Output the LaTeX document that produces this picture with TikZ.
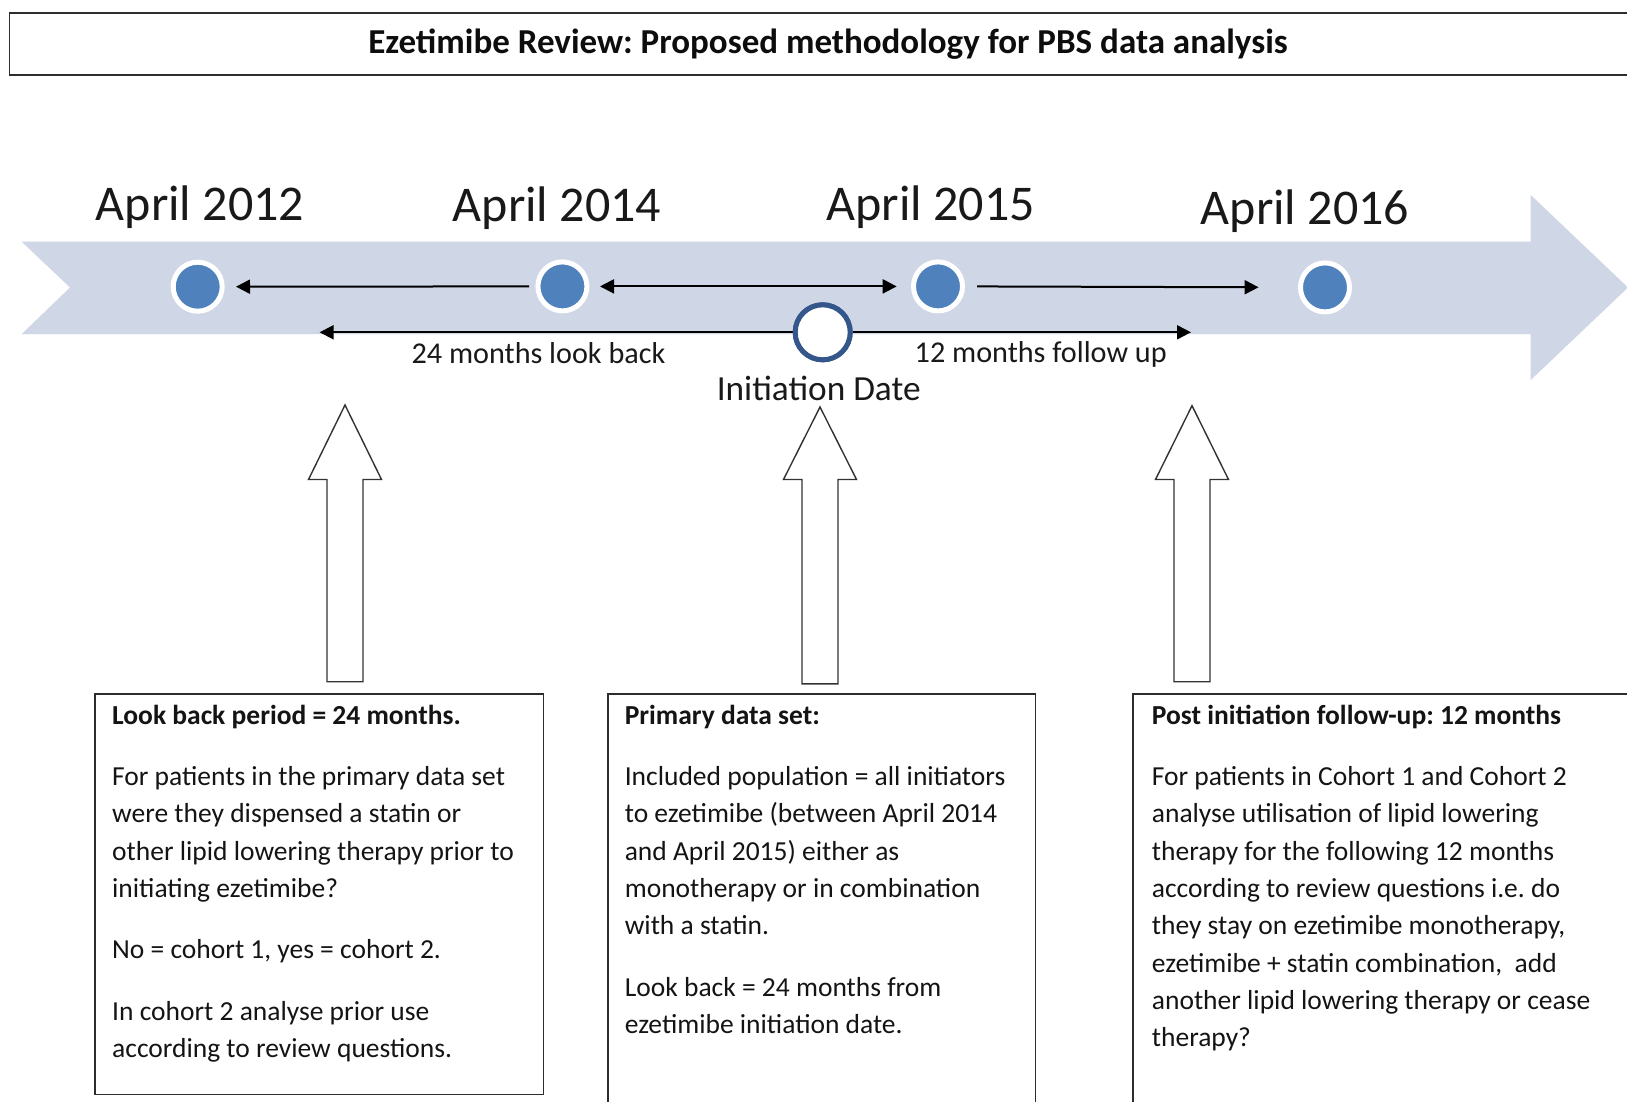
\documentclass[tikz,border=0pt]{standalone}
\usepackage{fontspec}
\setmainfont{Carlito}
\frenchspacing
\usetikzlibrary{arrows.meta}
\definecolor{bandcol}{RGB}{207,214,230}
\definecolor{dotcol}{RGB}{79,129,189}
\definecolor{navy}{RGB}{52,86,138}
\definecolor{frame}{RGB}{45,45,45}
\tikzset{
  dot/.style={circle, fill=dotcol, draw=white, line width=5pt, minimum size=49pt, inner sep=0pt},
  initdot/.style={circle, fill=white, draw=navy, line width=5pt, minimum size=55pt, inner sep=0pt},
  tl/.style={line width=2pt, black},
  tip/.style={-{Triangle[length=14pt,width=14pt]}},
  datelbl/.style={anchor=base, font=\fontsize{50}{60}\selectfont, text=black!90, inner sep=0pt},
  smlbl/.style={anchor=base, font=\fontsize{30.2}{36}\selectfont, text=black!90, inner sep=0pt},
  infobox/.style={draw=frame, line width=1.5pt, anchor=north west, inner sep=0pt},
  infotext/.style={anchor=north west, align=left, inner sep=0pt, text=black!92,
    font=\fontsize{27.5}{37.3}\selectfont},
  blk/.style={draw=black!80, line width=1.4pt, fill=white, line join=miter},
}
\newcommand{\blkarrow}[3]{% center x, tip y, bottom y
  \path[blk] (#1,#2) -- (#1+36.5,479.5) -- (#1+18,479.5) -- (#1+18,#3) -- (#1-18,#3)
    -- (#1-18,479.5) -- (#1-36.5,479.5) -- cycle;}
\begin{document}
\begin{tikzpicture}[x=1pt,y=-1pt]
\useasboundingbox (0,0) rectangle (1627,1102);
\clip (0,0) rectangle (1627,1102);
\fill[white] (0,0) rectangle (1627,1102);

% title
\node[draw=frame, line width=1.5pt, anchor=north west, minimum width=1640pt, minimum height=62pt, inner sep=0pt] (titlebox) at (8.5,12.5) {};
\node[font=\bfseries\fontsize{35}{40}\selectfont, text=black!95, inner sep=0pt] (title) at (828,44.5) {Ezetimibe Review: Proposed methodology for PBS data analysis};

% band
\fill[bandcol] (21.7,241.7) -- (1530.7,241.7) -- (1530.7,195) -- (1628,287.5) -- (1530.7,380)
  -- (1530.7,334) -- (21.7,334) -- (70,287.5) -- cycle;

% date labels
\node[datelbl] (l12) at (200,220) {April 2012};
\node[datelbl] (l14) at (557,222) {April 2014};
\node[datelbl] (l15) at (930.7,220) {April 2015};
\node[datelbl] (l16) at (1305,224) {April 2016};

% dots
\node[dot] (c12) at (197.7,286.7) {};
\node[dot] (c14) at (562.4,286.4) {};
\node[dot] (c15) at (938,286.4) {};
\node[dot] (c16) at (1325,287.4) {};
\coordinate (lb) at (319.6,332.3);
\coordinate (fu) at (1191,332.3);
\node[initdot] (init) at (822.7,332.3) {};

% connectors
\draw[tl,tip,shorten <=6.4pt,shorten >=11.3pt] (c14.west) -- (c12.east);
\draw[tl,{Triangle[length=14pt,width=14pt]}-{Triangle[length=14pt,width=14pt]},shorten <=10.6pt,shorten >=14.3pt] (c14.east) -- (c15.west);
\draw[tl,tip,shorten <=12pt,shorten >=39.4pt] (c15.east) -- (c16.west);
\draw[tl,tip] (init.west) -- (lb);
\draw[tl,tip] (init.east) -- (fu);
\node[initdot] (init2) at (init) {};

\node[smlbl] (lblb) at (538.5,363) {24 months look back};
\node[smlbl] (lbfu) at (1040.7,362) {12 months follow up};
\node[anchor=base, font=\fontsize{35.3}{40}\selectfont, text=black!90, inner sep=0pt] (lbinit) at (818.7,400.5) {Initiation Date};

% block arrows
\blkarrow{345}{405}{681.7}
\blkarrow{820}{407}{683.8}
\blkarrow{1192}{405.7}{681.7}

% boxes
\node[infobox, minimum width=448.3pt, minimum height=400.6pt] (box1) at (94.4,693) {};
\node[infobox, minimum width=427.5pt, minimum height=409pt] (box2) at (607,693) {};
\node[infobox, minimum width=520pt, minimum height=430pt] (box3) at (1132,693) {};

\node[infotext] (t1) at (112,697.9) {\strut\textbf{Look back period = 24 months.}\\[24pt]
For patients in the primary data set\\
were they dispensed a statin or\\
other lipid lowering therapy prior to\\
initiating ezetimibe?\\[24pt]
No = cohort 1, yes = cohort 2.\\[24pt]
In cohort 2 analyse prior use\\
according to review questions.};

\node[infotext] (t2) at (624.6,697.9) {\strut\textbf{Primary data set:}\\[24pt]
Included population = all initiators\\
to ezetimibe (between April 2014\\
and April 2015) either as\\
monotherapy or in combination\\
with a statin.\\[24pt]
Look back = 24 months from\\
ezetimibe initiation date.};

\node[infotext] (t3) at (1151.7,697.9) {\strut\textbf{Post initiation follow-up: 12 months}\\[24pt]
For patients in Cohort 1 and Cohort 2\\
analyse utilisation of lipid lowering\\
therapy for the following 12 months\\
according to review questions i.e. do\\
they stay on ezetimibe monotherapy,\\
ezetimibe + statin combination,\ \ add\\
another lipid lowering therapy or cease\\
therapy?};
\end{tikzpicture}
\end{document}
